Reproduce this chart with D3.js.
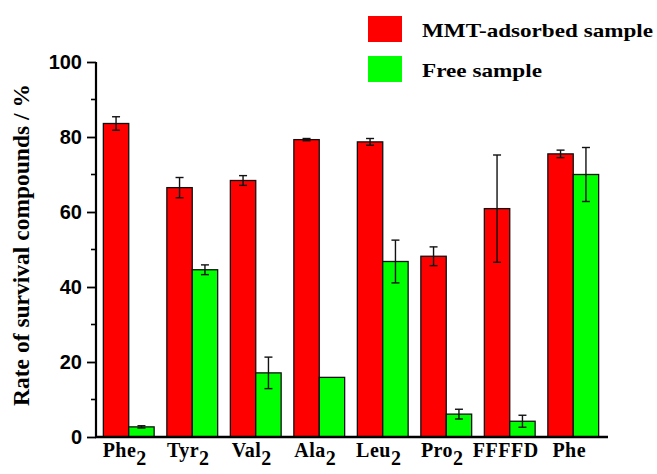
<!DOCTYPE html>
<html>
<head>
<meta charset="utf-8">
<script src="https://cdn.jsdelivr.net/npm/d3@7"></script>
<style>
  body { margin: 0; background: #fff; }
  svg { display: block; }
</style>
</head>
<body>
<div id="chart"></div>
<script>
// compound names (base + subscript)
const compounds = ['Phe', 'Tyr', 'Val', 'Ala', 'Leu', 'Pro', 'FFFFD', 'Phe'];
const subscripts = ['2', '2', '2', '2', '2', '2', '', ''];
const groupIds = ['Phe2', 'Tyr2', 'Val2', 'Ala2', 'Leu2', 'Pro2', 'FFFFD', 'Phe'];

const seriesNames = ['MMT-adsorbed sample', 'Free sample'];
const adsorbed = [83.6, 66.5, 68.4, 79.3, 78.7, 48.2, 60.9, 75.5];
const adsorbedErr = [1.8, 2.7, 1.3, 0.3, 0.9, 2.5, 14.3, 1.0];
const free = [2.7, 44.6, 17.1, 15.9, 46.8, 6.1, 4.2, 70.0];
const freeErr = [0.3, 1.3, 4.2, 0, 5.7, 1.3, 1.6, 7.2];

const yTicks = [0, 20, 40, 60, 80, 100];
const yMinor = [10, 30, 50, 70, 90];

const svgWidth = 657;
const svgHeight = 474;
const colors = ['#ff0000', '#00ff00'];

const svg = d3.select('#chart')
    .append('svg')
    .attr('width', svgWidth)
    .attr('height', svgHeight);

const axisLeftX = 96;
const axisRightX = 608;
const baseY = 437;

const xScale = d3.scaleBand()
    .domain(groupIds)
    .range([97, 605])
    .paddingInner(0.2)
    .paddingOuter(0.1);

const subScale = d3.scaleBand()
    .domain(seriesNames)
    .range([0, xScale.bandwidth()]);

const yScale = d3.scaleLinear()
    .domain([0, 100])
    .range([baseY, 62]);

const rows = groupIds.map((g, i) => [
    { g, s: seriesNames[0], v: adsorbed[i], e: adsorbedErr[i], c: colors[0] },
    { g, s: seriesNames[1], v: free[i], e: freeErr[i], c: colors[1] }
]).flat();

// bars
svg.append('g')
    .selectAll('rect')
    .data(rows)
    .enter()
    .append('rect')
    .attr('x', d => xScale(d.g) + subScale(d.s))
    .attr('y', d => yScale(d.v))
    .attr('width', subScale.bandwidth())
    .attr('height', d => yScale(0) - yScale(d.v))
    .attr('fill', d => d.c)
    .attr('stroke', '#111')
    .attr('stroke-width', 1.3);

// error bars
const eb = svg.append('g')
    .attr('stroke', '#111')
    .attr('stroke-width', 1.4)
    .selectAll('g')
    .data(rows.filter(d => d.e > 0))
    .enter()
    .append('g')
    .attr('transform', d => `translate(${xScale(d.g) + subScale(d.s) + subScale.bandwidth() / 2},0)`);

eb.append('line')
    .attr('y1', d => yScale(d.v - d.e))
    .attr('y2', d => yScale(d.v + d.e));
eb.append('line')
    .attr('x1', -4).attr('x2', 4)
    .attr('y1', d => yScale(d.v + d.e))
    .attr('y2', d => yScale(d.v + d.e));
eb.append('line')
    .attr('x1', -4).attr('x2', 4)
    .attr('y1', d => yScale(d.v - d.e))
    .attr('y2', d => yScale(d.v - d.e));

// y axis
const yAxis = svg.append('g')
    .attr('transform', `translate(${axisLeftX},0)`)
    .call(d3.axisLeft(yScale).tickValues(yTicks).tickSize(9).tickPadding(5));
yAxis.select('.domain').attr('stroke-width', 2.2).attr('d', `M0,${yScale(100)}V${baseY}`);
yAxis.selectAll('.tick line').attr('stroke-width', 1.8);
yAxis.selectAll('.tick text')
    .style('font-family', '"Liberation Sans", Arial, sans-serif')
    .style('font-weight', 'bold')
    .style('font-size', '20px')
    .attr('fill', '#000');

svg.append('g')
    .attr('transform', `translate(${axisLeftX},0)`)
    .selectAll('line')
    .data(yMinor)
    .enter()
    .append('line')
    .attr('x1', -5).attr('x2', 0)
    .attr('y1', d => yScale(d)).attr('y2', d => yScale(d))
    .attr('stroke', '#000')
    .attr('stroke-width', 1.6);

// x axis line
svg.append('line')
    .attr('x1', axisLeftX - 1).attr('x2', axisRightX)
    .attr('y1', baseY).attr('y2', baseY)
    .attr('stroke', '#000')
    .attr('stroke-width', 2.4);

// x labels with subscript
const xl = svg.append('g')
    .selectAll('text')
    .data(groupIds)
    .enter()
    .append('text')
    .attr('x', d => xScale(d) + xScale.bandwidth() / 2 - 4)
    .attr('y', 457)
    .attr('text-anchor', 'middle')
    .style('font-family', '"Liberation Serif", "Times New Roman", serif')
    .style('font-weight', 'bold')
    .style('font-size', '20px')
    .style('letter-spacing', '0.5px');
xl.append('tspan').text((d, i) => compounds[i]);
xl.append('tspan')
    .attr('dy', 8)
    .text((d, i) => subscripts[i]);

// y title
svg.append('text')
    .attr('transform', 'translate(29,245) rotate(-90)')
    .attr('text-anchor', 'middle')
    .style('font-family', '"Liberation Serif", "Times New Roman", serif')
    .style('font-weight', 'bold')
    .style('font-size', '23.5px')
    .text('Rate of survival compounds / %');

// legend
const legend = svg.append('g')
    .selectAll('g')
    .data(seriesNames)
    .enter()
    .append('g')
    .attr('transform', (d, i) => `translate(368,${16 + i * 40})`);
legend.append('rect')
    .attr('width', 34)
    .attr('height', 26)
    .attr('fill', (d, i) => colors[i]);
legend.append('text')
    .attr('x', 54)
    .attr('y', 21)
    .attr('textLength', (d, i) => i === 0 ? 231 : 120)
    .attr('lengthAdjust', 'spacingAndGlyphs')
    .style('font-family', '"Liberation Serif", "Times New Roman", serif')
    .style('font-weight', 'bold')
    .style('font-size', '19px')
    .text(d => d);
</script>
</body>
</html>
